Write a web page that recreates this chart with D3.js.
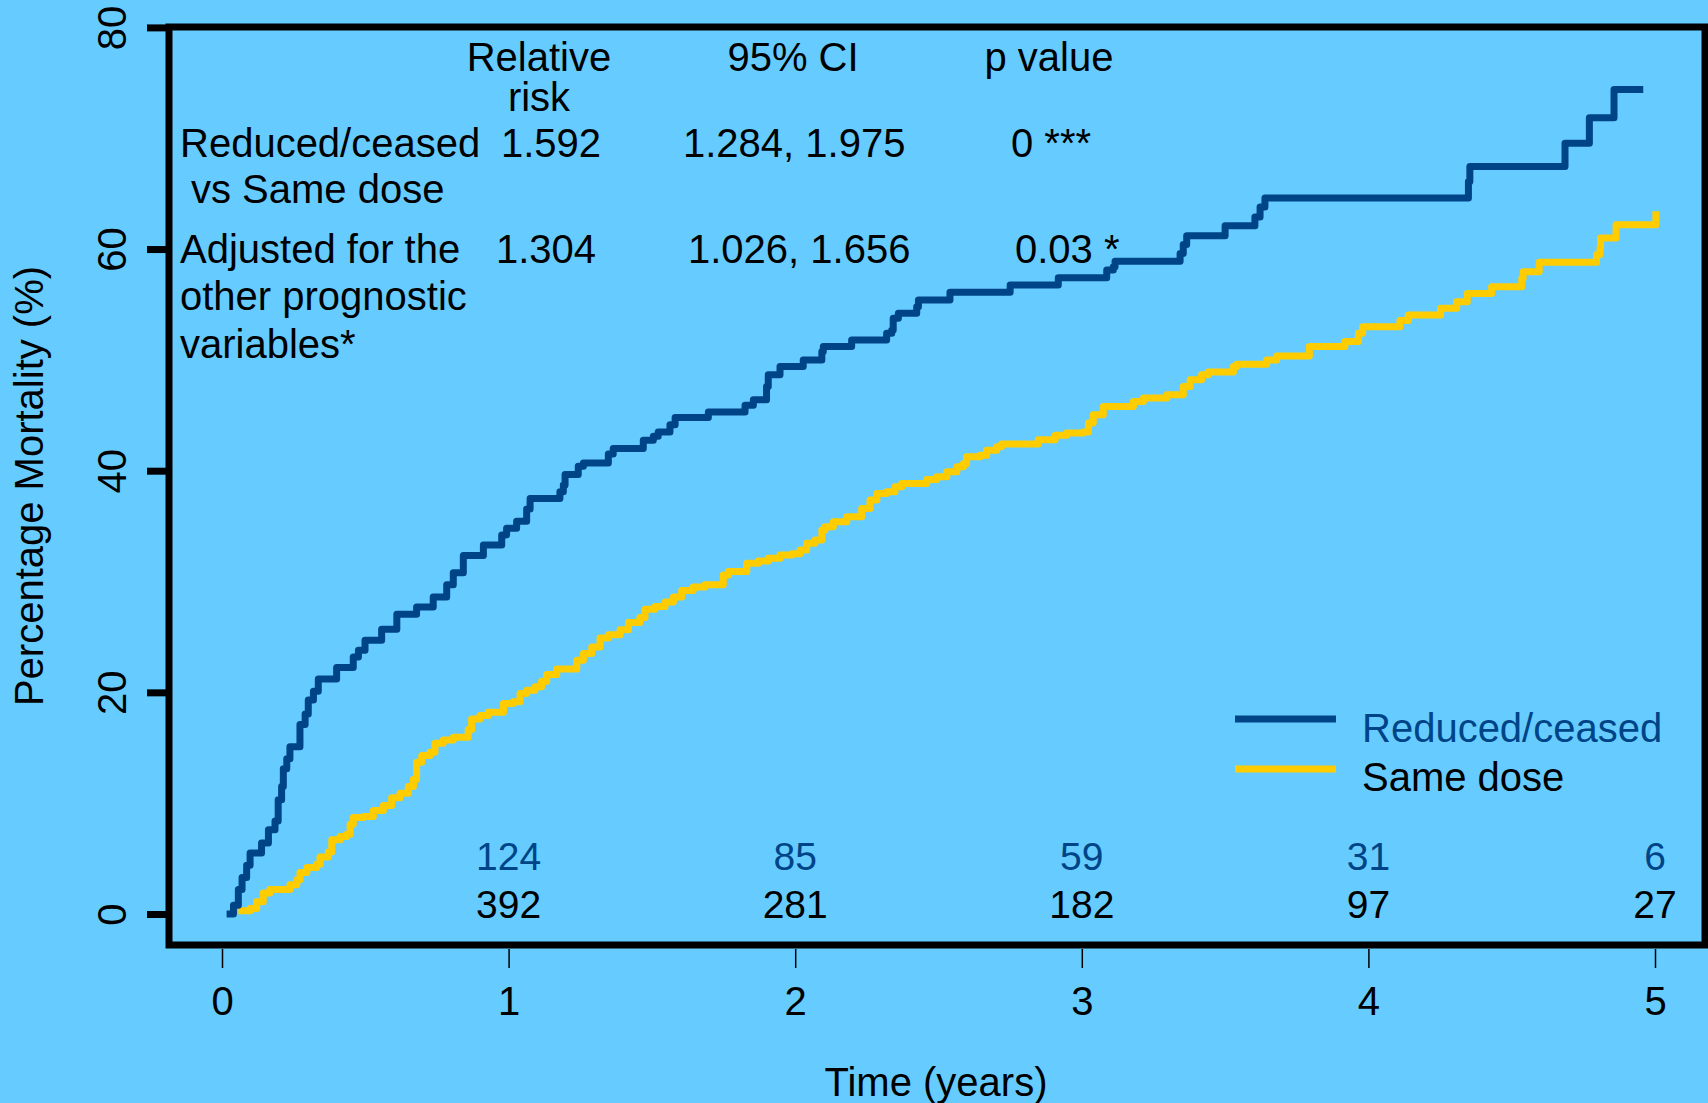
<!DOCTYPE html>
<html>
<head>
<meta charset="utf-8">
<script src="https://cdn.jsdelivr.net/npm/d3@7"></script>
<style>
  body { margin: 0; background: #66ccff; }
  text { font-family: "Liberation Sans", Arial, sans-serif; }
</style>
</head>
<body>
<script>
// cumulative mortality (%) steps: [time in years, percent]
const reducedCeased = [
  [0.016, 0], [0.04, 0.8], [0.057, 2.2], [0.07, 3.3], [0.086, 4.4], [0.098, 5.5], [0.138, 6.4],
  [0.162, 7.6], [0.185, 8.4], [0.196, 10.3], [0.208, 11.5], [0.214, 13.1], [0.226, 14.0],
  [0.237, 15.1], [0.272, 17.1], [0.29, 18.05], [0.301, 19.3], [0.319, 20.1], [0.336, 21.2],
  [0.40, 22.25], [0.458, 23.2], [0.476, 23.8], [0.499, 24.7], [0.557, 25.7], [0.61, 27.05],
  [0.679, 27.7], [0.737, 28.6], [0.784, 29.7], [0.807, 30.8], [0.842, 32.35], [0.912, 33.3],
  [0.976, 34.2], [0.993, 34.8], [1.028, 35.45], [1.063, 36.55], [1.075, 37.5], [1.179, 38.1],
  [1.191, 38.7], [1.197, 39.65], [1.243, 40.4], [1.261, 40.7], [1.348, 41.5], [1.365, 42.0],
  [1.47, 42.75], [1.505, 43.1], [1.522, 43.5], [1.563, 44.15], [1.581, 44.8], [1.697, 45.3],
  [1.825, 45.9], [1.854, 46.4], [1.90, 47.6], [1.906, 48.65], [1.947, 49.4], [2.028, 50.0],
  [2.093, 50.75], [2.098, 51.2], [2.197, 51.8], [2.319, 52.4], [2.337, 52.7], [2.342, 53.75],
  [2.36, 54.2], [2.424, 54.8], [2.43, 55.4], [2.54, 56.1], [2.75, 56.75], [2.918, 57.4],
  [3.087, 58.1], [3.11, 58.4], [3.116, 58.9], [3.343, 59.6], [3.354, 60.4], [3.366, 61.2],
  [3.50, 62.1], [3.604, 62.9], [3.622, 63.8], [3.639, 64.6], [4.349, 66.1], [4.354, 67.45],
  [4.686, 69.55], [4.771, 71.85], [4.857, 74.4], [4.959, 74.4]
];
const sameDose = [
  [0.057, 0.3], [0.098, 0.5], [0.121, 1.1], [0.144, 1.9], [0.167, 2.2], [0.237, 2.65],
  [0.261, 3.1], [0.272, 3.75], [0.296, 4.2], [0.33, 4.5], [0.342, 5.15], [0.371, 5.6],
  [0.383, 6.7], [0.412, 7.0], [0.435, 7.2], [0.447, 8.1], [0.458, 8.7], [0.493, 8.8],
  [0.528, 9.35], [0.563, 9.8], [0.592, 10.5], [0.621, 10.9], [0.65, 11.5], [0.668, 12.15],
  [0.679, 13.7], [0.697, 14.3], [0.726, 14.6], [0.743, 15.4], [0.772, 15.7], [0.807, 15.95],
  [0.859, 16.65], [0.871, 17.6], [0.90, 17.9], [0.929, 18.2], [0.982, 19.0], [1.016, 19.15],
  [1.04, 19.9], [1.063, 20.2], [1.092, 20.5], [1.115, 21.0], [1.133, 21.6], [1.168, 22.1],
  [1.238, 22.9], [1.261, 23.5], [1.29, 24.1], [1.319, 24.9], [1.348, 25.2], [1.389, 25.65],
  [1.418, 26.3], [1.458, 26.75], [1.476, 27.5], [1.511, 27.75], [1.546, 28.15], [1.575, 28.6],
  [1.604, 29.2], [1.644, 29.5], [1.685, 29.7], [1.749, 30.6], [1.767, 30.9], [1.831, 31.65],
  [1.871, 31.85], [1.906, 32.1], [1.947, 32.4], [1.988, 32.5], [2.017, 32.85], [2.04, 33.45],
  [2.069, 33.75], [2.093, 34.65], [2.104, 34.95], [2.133, 35.4], [2.18, 35.85], [2.232, 36.6],
  [2.261, 37.35], [2.285, 37.95], [2.319, 38.1], [2.348, 38.55], [2.372, 38.85], [2.459, 39.2],
  [2.494, 39.45], [2.529, 39.9], [2.564, 40.35], [2.587, 40.65], [2.598, 41.25], [2.645, 41.4],
  [2.668, 41.85], [2.703, 42.15], [2.72, 42.4], [2.848, 42.8], [2.907, 43.2], [2.947, 43.4],
  [3.005, 43.5], [3.023, 44.3], [3.04, 45.05], [3.075, 45.8], [3.18, 46.25], [3.215, 46.55],
  [3.297, 46.85], [3.354, 47.6], [3.378, 48.2], [3.418, 48.65], [3.441, 48.9], [3.529, 49.4],
  [3.541, 49.6], [3.645, 50.0], [3.68, 50.35], [3.794, 51.2], [3.918, 51.65], [3.965, 52.4],
  [3.98, 53.0], [4.11, 53.55], [4.139, 54.05], [4.252, 54.65], [4.308, 55.25], [4.345, 56.0],
  [4.43, 56.6], [4.535, 57.35], [4.54, 57.95], [4.596, 58.8], [4.796, 59.5], [4.808, 60.1],
  [4.81, 61.0], [4.864, 62.2], [5.003, 63.4]
];

const xTicks = [0, 1, 2, 3, 4, 5];
const yTicks = [0, 20, 40, 60, 80];
const riskTimes = [1, 2, 3, 4, 5];
const atRiskReduced = [124, 85, 59, 31, 6];
const atRiskSame = [392, 281, 182, 97, 27];

const seriesNames = ['Reduced/ceased', 'Same dose'];
const relRisk = ['1.592', '1.304'];
const ciText = ['1.284, 1.975', '1.026, 1.656'];
const pText = ['0 ***', '0.03 *'];

const BLUE = '#004488', YELLOW = '#ffcc00', BG = '#66ccff';
const W = 1708, H = 1103;

const svg = d3.select('body').append('svg').attr('width', W).attr('height', H);
svg.append('rect').attr('width', W).attr('height', H).attr('fill', BG);

const x = d3.scaleLinear().domain([0, 5]).range([222, 1655]);
const y = d3.scaleLinear().domain([0, 80]).range([914, 27.4]);

// frame
svg.append('rect')
    .attr('x', 169).attr('y', 27)
    .attr('width', 1536).attr('height', 918)
    .attr('fill', 'none').attr('stroke', '#000').attr('stroke-width', 7);

// y axis, thick ticks and rotated labels
const yAxis = svg.append('g')
    .attr('transform', 'translate(169,0)')
    .call(d3.axisLeft(y).tickValues(yTicks).tickSize(22).tickFormat(''));
yAxis.select('.domain').remove();
yAxis.selectAll('.tick line').attr('stroke', '#000').attr('stroke-width', 7);
yAxis.selectAll('.tick').append('text')
    .attr('transform', 'translate(-43,0) rotate(-90)')
    .attr('text-anchor', 'middle')
    .attr('fill', '#000')
    .style('font-size', '40px')
    .text(d => d);

// x axis below the frame
const xAxis = svg.append('g')
    .attr('transform', 'translate(0,949)')
    .call(d3.axisBottom(x).tickValues(xTicks).tickSize(19).tickPadding(19).tickFormat(d3.format('d')));
xAxis.select('.domain').remove();
xAxis.selectAll('.tick line').attr('stroke', '#000').attr('stroke-width', 1.5);
xAxis.selectAll('.tick text')
    .attr('fill', '#000')
    .style('font-size', '40px')
    .style('font-family', '"Liberation Sans", Arial, sans-serif');

svg.append('text')
    .attr('x', 936).attr('y', 1096)
    .attr('text-anchor', 'middle')
    .style('font-size', '40px')
    .text('Time (years)');

svg.append('text')
    .attr('transform', 'translate(43,486) rotate(-90)')
    .attr('text-anchor', 'middle')
    .style('font-size', '40px')
    .text('Percentage Mortality (%)');

// curves
const line = d3.line()
    .x(d => x(d[0]))
    .y(d => y(d[1]))
    .curve(d3.curveStepAfter);

svg.append('path').datum(sameDose)
    .attr('d', line)
    .attr('fill', 'none').attr('stroke', YELLOW)
    .attr('stroke-width', 7).attr('stroke-linejoin', 'round');

svg.append('path').datum(reducedCeased)
    .attr('d', line)
    .attr('fill', 'none').attr('stroke', BLUE)
    .attr('stroke-width', 7).attr('stroke-linejoin', 'round');

// numbers at risk
svg.selectAll('.riskBlue').data(riskTimes).enter().append('text')
    .attr('class', 'riskBlue')
    .attr('x', d => x(d)).attr('y', 870)
    .attr('text-anchor', 'middle')
    .attr('fill', BLUE)
    .style('font-size', '39px')
    .text((d, i) => atRiskReduced[i]);

svg.selectAll('.riskYellow').data(riskTimes).enter().append('text')
    .attr('class', 'riskYellow')
    .attr('x', d => x(d)).attr('y', 918)
    .attr('text-anchor', 'middle')
    .attr('fill', '#000')
    .style('font-size', '39px')
    .text((d, i) => atRiskSame[i]);

// legend
const legend = svg.append('g');
[BLUE, YELLOW].forEach((c, i) => {
    legend.append('line')
        .attr('x1', 1235).attr('x2', 1336)
        .attr('y1', 719 + i * 50).attr('y2', 719 + i * 50)
        .attr('stroke', c).attr('stroke-width', 7);
    legend.append('text')
        .attr('x', 1362).attr('y', 742 + i * 49)
        .attr('fill', i == 0 ? BLUE : '#000')
        .style('font-size', '40px')
        .text(seriesNames[i]);
});

// relative risk table
const tbl = svg.append('g').style('font-size', '40px').attr('fill', '#000');
const put = (tx, ty, s, anchor = 'start') =>
    tbl.append('text').attr('x', tx).attr('y', ty).attr('text-anchor', anchor).text(s);

put(539, 71, 'Relative', 'middle');
put(539, 111, 'risk', 'middle');
put(793, 71, '95% CI', 'middle');
put(1049, 71, 'p value', 'middle');

put(180, 157, 'Reduced/ceased');
put(191, 203, 'vs Same dose');
put(501, 157, relRisk[0]);
put(683, 157, ciText[0]);
put(1011, 157, pText[0]);

put(180, 263, 'Adjusted for the');
put(180, 310, 'other prognostic');
put(180, 358, 'variables*');
put(496, 263, relRisk[1]);
put(688, 263, ciText[1]);
put(1015, 263, pText[1]);
</script>
</body>
</html>
